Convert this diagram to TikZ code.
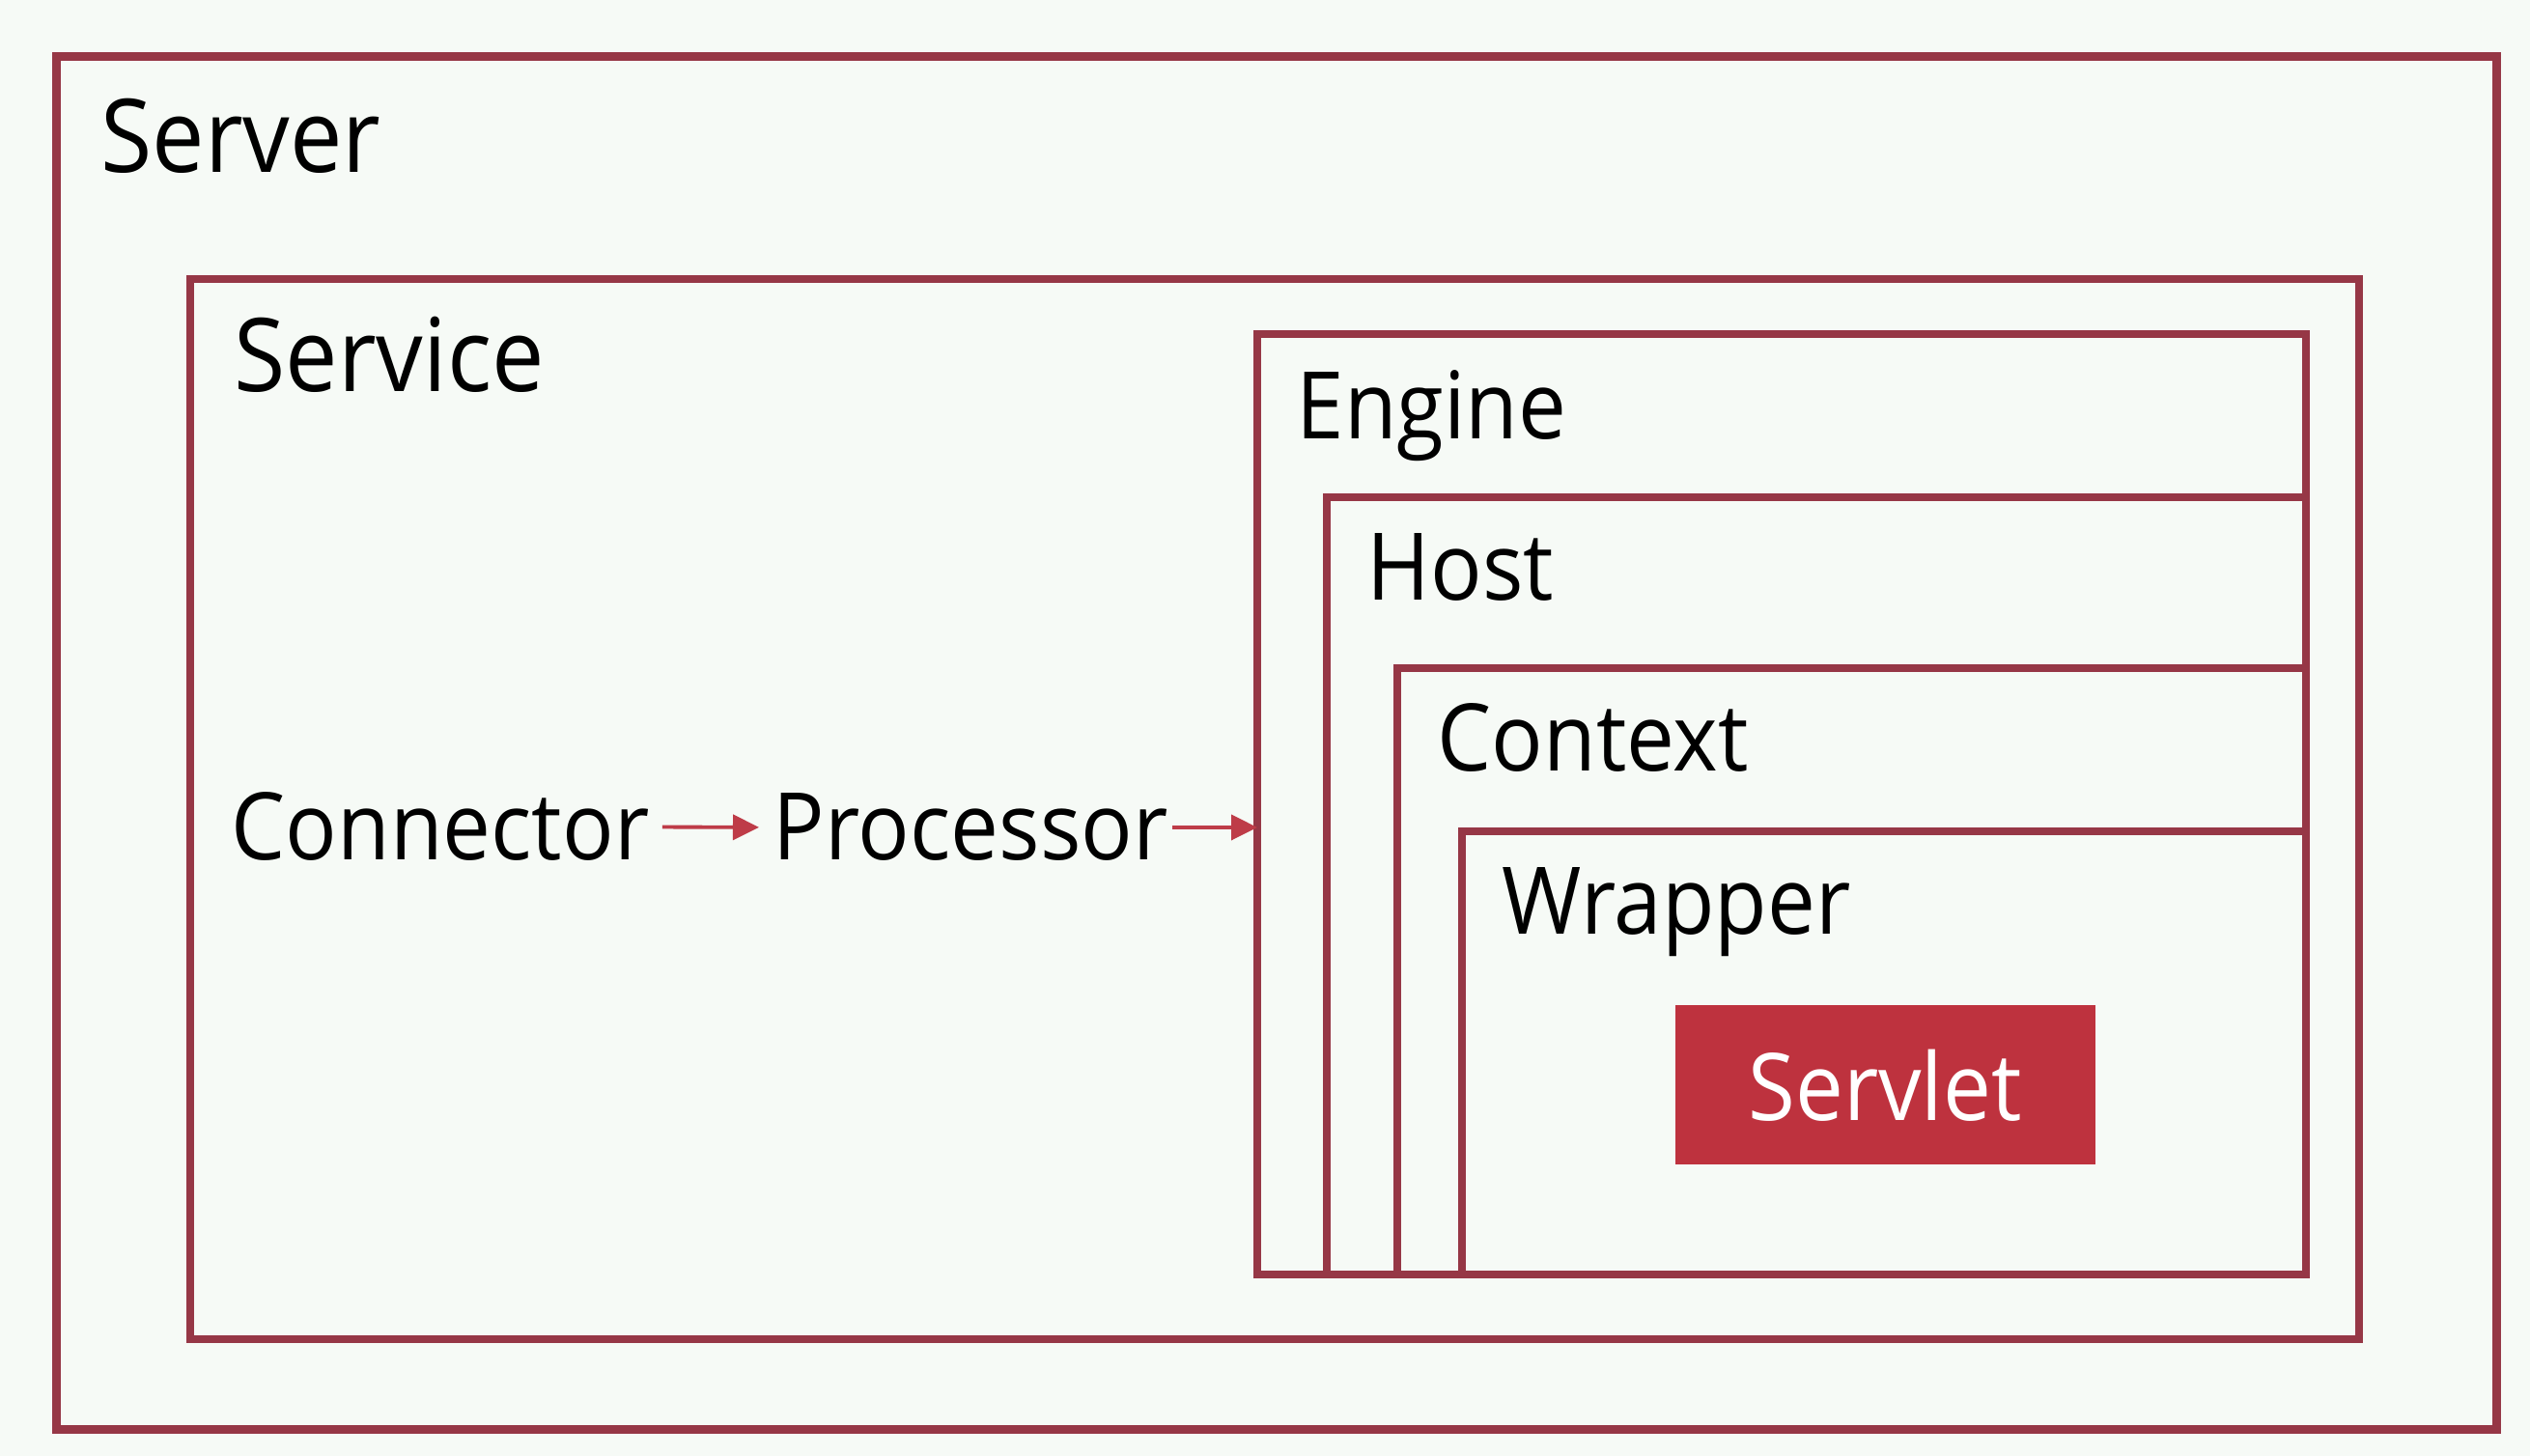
\documentclass[tikz,border=0pt]{standalone}
\usepackage{fontspec}
\setmainfont{Open Sans}[FakeStretch=0.92]
\usetikzlibrary{arrows.meta}
\usetikzlibrary{positioning}
\definecolor{frame}{RGB}{150,55,70}
\definecolor{flowred}{RGB}{190,60,72}
\definecolor{servletred}{RGB}{190,50,62}
\definecolor{paper}{RGB}{246,250,246}
\begin{document}
\begin{tikzpicture}[box/.style = {draw = frame, line width = 2.4pt, outer sep = 0pt}, lbl/.style = {anchor = base west, inner sep = 0pt, font = \fontsize{30}{36}\selectfont}, small/.style = {lbl, font = \fontsize{27.5}{33}\selectfont}, flow/.style = {draw = flowred, line width = 1.1pt, -{Triangle[length = 0.27cm, width = 0.26cm]}}]
\useasboundingbox (0,0) rectangle (26.2,-15.08);
\fill[paper] (0,0) rectangle (26.2,-15.08);
\node[box, anchor = north west, minimum width = 25.27cm, minimum height = 14.22cm] (serverbox) at (0.585,-0.585){};
\node[box, anchor = north west, minimum width = 22.46cm, minimum height = 10.98cm] (servicebox) at (1.97,-2.89){};
\node[box, anchor = north west, minimum width = 10.86cm, minimum height = 9.74cm] (engine) at (13.02,-3.46){};
\node[lbl] (server) at (1.04,-1.79) {Server};
\node[lbl] (service) at (2.42,-4.06) {Service};
\node[small] (enginelabel) at (13.42,-4.55) {Engine};
\foreach \n/\x/\y/\t in {host/13.74/5.15/Host, context/14.47/6.92/Context, wrapper/15.14/8.61/Wrapper}{
\draw[box] (\x,-\y) rectangle (engine.south east);
\node[small] (\n) at (\x+0.41,-\y-1.07) {\t};}
\node[fill = servletred, minimum width = 4.35cm, minimum height = 1.65cm, text = white, font = \fontsize{27.5}{33}\selectfont] (servlet) at (19.52,-11.24) {Servlet};
\node[small] (connector) at (2.39,-8.91) {Connector};
\node[small] (processor) at ([xshift = 1.27cm]connector.base east) {Processor};
\draw[flow, shorten < = 0.13cm, shorten > = 0.14cm] (connector.east) -- (processor.west);
\draw[flow, shorten < = 0.04cm] (processor.east) -- (processor.east -| engine.west);
\end{tikzpicture}
\end{document}
